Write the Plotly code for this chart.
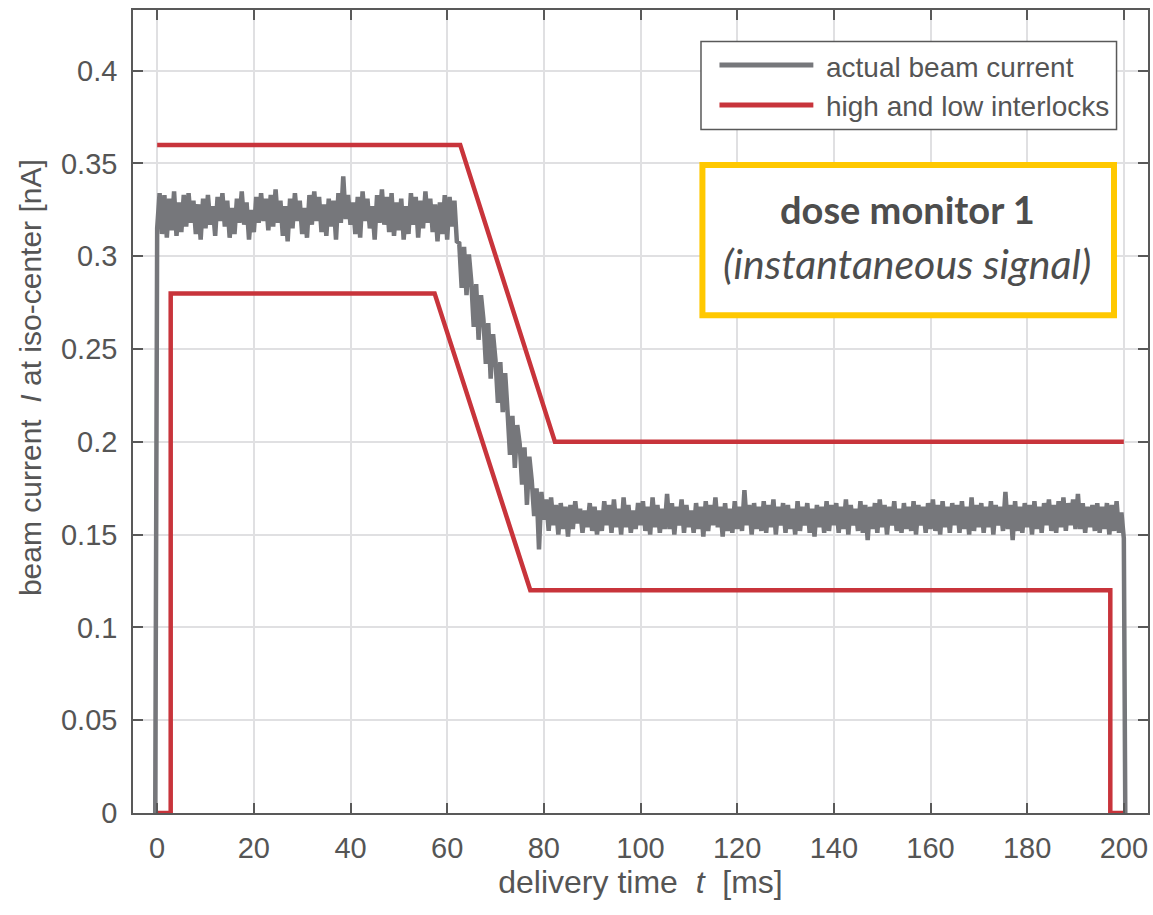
import plotly.graph_objects as go

# ---------------- data ----------------
SAMPLE_MS = 0.5  # sampling period of the beam-current record

# beam current [nA], sampled every 0.5 ms from t = 0.5 ms to 200.0 ms
plateau_high = [
    0.334, 0.312, 0.333, 0.310, 0.331, 0.314, 0.335, 0.311, 0.329, 0.313,
    0.333, 0.316, 0.334, 0.318, 0.330, 0.312, 0.328, 0.309, 0.331, 0.315,
    0.333, 0.317, 0.327, 0.311, 0.332, 0.319, 0.334, 0.316, 0.330, 0.310,
    0.326, 0.312, 0.331, 0.318, 0.335, 0.317, 0.329, 0.309, 0.325, 0.313,
    0.332, 0.318, 0.334, 0.319, 0.331, 0.314, 0.333, 0.316, 0.336, 0.318,
    0.330, 0.311, 0.327, 0.308, 0.331, 0.315, 0.334, 0.319, 0.330, 0.312,
    0.326, 0.310, 0.333, 0.317, 0.335, 0.319, 0.332, 0.313, 0.328, 0.311,
    0.331, 0.316, 0.330, 0.309, 0.334, 0.318, 0.343, 0.320, 0.333, 0.317,
    0.329, 0.312, 0.332, 0.310, 0.335, 0.319, 0.331, 0.315, 0.327, 0.309,
    0.333, 0.318, 0.336, 0.317, 0.332, 0.313, 0.334, 0.311, 0.329, 0.314,
    0.331, 0.309, 0.327, 0.312, 0.334, 0.317, 0.332, 0.310, 0.330, 0.315,
    0.335, 0.318, 0.331, 0.313, 0.328, 0.308, 0.329, 0.312, 0.333, 0.309,
    0.332, 0.316, 0.330, 0.308,
]
ramp_down = [
    0.307, 0.283, 0.305, 0.279, 0.301,
    0.286, 0.262, 0.285, 0.255, 0.279,
    0.266, 0.242, 0.264, 0.234, 0.258,
    0.244, 0.221, 0.243, 0.216, 0.237,
    0.216, 0.193, 0.214, 0.186, 0.209,
    0.199, 0.177, 0.197, 0.166, 0.192,
    0.179, 0.160, 0.175, 0.142, 0.173, 0.158,
]
plateau_low = [
    0.169, 0.152, 0.170, 0.155, 0.166, 0.150, 0.167, 0.153, 0.165, 0.149,
    0.166, 0.153, 0.168, 0.156, 0.164, 0.151, 0.163, 0.154, 0.167, 0.152,
    0.165, 0.150, 0.163, 0.152, 0.168, 0.155, 0.166, 0.151, 0.169, 0.154,
    0.164, 0.150, 0.170, 0.154, 0.166, 0.151, 0.163, 0.153, 0.167, 0.155,
    0.168, 0.152, 0.165, 0.150, 0.170, 0.154, 0.166, 0.151, 0.164, 0.153,
    0.172, 0.153, 0.167, 0.150, 0.165, 0.155, 0.169, 0.151, 0.166, 0.154,
    0.163, 0.151, 0.167, 0.153, 0.165, 0.149, 0.168, 0.152, 0.166, 0.155,
    0.170, 0.154, 0.165, 0.149, 0.167, 0.152, 0.164, 0.151, 0.168, 0.153,
    0.165, 0.152, 0.174, 0.155, 0.166, 0.150, 0.167, 0.153, 0.165, 0.152,
    0.168, 0.151, 0.166, 0.154, 0.169, 0.150, 0.165, 0.155, 0.167, 0.151,
    0.166, 0.153, 0.164, 0.150, 0.168, 0.152, 0.165, 0.155, 0.167, 0.151,
    0.164, 0.149, 0.166, 0.154, 0.165, 0.151, 0.168, 0.152, 0.166, 0.155,
    0.167, 0.151, 0.165, 0.153, 0.169, 0.150, 0.166, 0.155, 0.164, 0.152,
    0.168, 0.151, 0.166, 0.147, 0.165, 0.153, 0.167, 0.151, 0.169, 0.154,
    0.166, 0.150, 0.165, 0.155, 0.168, 0.152, 0.164, 0.151, 0.167, 0.153,
    0.165, 0.152, 0.168, 0.150, 0.166, 0.155, 0.165, 0.151, 0.167, 0.153,
    0.169, 0.152, 0.166, 0.150, 0.168, 0.154, 0.165, 0.151, 0.167, 0.155,
    0.166, 0.151, 0.168, 0.153, 0.165, 0.150, 0.170, 0.152, 0.166, 0.154,
    0.167, 0.151, 0.165, 0.154, 0.168, 0.150, 0.166, 0.155, 0.165, 0.152,
    0.173, 0.153, 0.166, 0.147, 0.168, 0.152, 0.165, 0.151, 0.167, 0.154,
    0.166, 0.150, 0.168, 0.153, 0.165, 0.151, 0.167, 0.155, 0.169, 0.152,
    0.166, 0.151, 0.168, 0.154, 0.170, 0.152, 0.167, 0.155, 0.169, 0.153,
    0.172, 0.153, 0.167, 0.151, 0.165, 0.154, 0.166, 0.152, 0.167, 0.151,
    0.165, 0.153, 0.167, 0.150, 0.166, 0.152, 0.168, 0.151, 0.162, 0.148,
]
beam_start_t = [-0.4, 0.0]
beam_start_v = [0.0, 0.315]
beam_end_t = [200.3, 200.7]
beam_end_v = [0.0, 0.0]

# interlock limits [nA]
high_t = [0.0, 62.7, 82.3, 200.0]
high_v = [0.36, 0.36, 0.20, 0.20]
low_t = [0.0, 2.8, 2.8, 57.4, 77.2, 197.2, 197.2, 200.0]
low_v = [0.0, 0.0, 0.28, 0.28, 0.12, 0.12, 0.0, 0.0]

x_ticks = [0, 20, 40, 60, 80, 100, 120, 140, 160, 180, 200]
y_ticks = [0, 0.05, 0.1, 0.15, 0.2, 0.25, 0.3, 0.35, 0.4]

# ---------------- build ----------------
samples = plateau_high + ramp_down + plateau_low
beam_t = beam_start_t + [round(SAMPLE_MS * (k + 1), 3) for k in range(len(samples))] + beam_end_t
beam_v = beam_start_v + samples + beam_end_v

GRAY = "#76777b"
RED = "#c8343b"
TXT = "#555555"
AXIS = "#595959"
FONT = "Liberation Sans, Arial, sans-serif"

fig = go.Figure()
fig.add_trace(go.Scatter(x=beam_t, y=beam_v, mode="lines",
                         line=dict(color=GRAY, width=4.5), name="actual beam current",
                         showlegend=False))
fig.add_trace(go.Scatter(x=high_t, y=high_v, mode="lines",
                         line=dict(color=RED, width=4.5), name="high and low interlocks",
                         showlegend=False))
fig.add_trace(go.Scatter(x=low_t, y=low_v, mode="lines",
                         line=dict(color=RED, width=4.5), showlegend=False))

axis_common = dict(showline=True, linecolor=AXIS, linewidth=1.5, mirror="allticks",
                   ticks="inside", ticklen=10, tickwidth=1.5, tickcolor=AXIS,
                   showgrid=True, gridcolor="#e0e0e2", gridwidth=1.5, zeroline=False,
                   tickfont=dict(family=FONT, size=29, color=TXT))

fig.update_xaxes(range=[-5, 205], tickvals=x_ticks, ticklabelstandoff=8,
                 title=dict(text="delivery time\u00a0\u00a0<i>t</i>\u00a0\u00a0[ms]",
                            font=dict(family=FONT, size=32, color=TXT), standoff=4),
                 **axis_common)
fig.update_yaxes(range=[0, 0.4327], tickvals=y_ticks, ticklabelstandoff=8,
                 **axis_common)

# manual legend (box + sample lines + labels)
shapes = [
    dict(type="rect", xref="paper", yref="paper", x0=0.5596, x1=0.969, y0=0.8512, y1=0.9608,
         line=dict(color=AXIS, width=1.5), fillcolor="white", layer="above"),
    dict(type="line", xref="paper", yref="paper", x0=0.5778, x1=0.6703, y0=0.9315, y1=0.9315,
         line=dict(color=GRAY, width=5), layer="above"),
    dict(type="line", xref="paper", yref="paper", x0=0.5778, x1=0.6703, y0=0.8817, y1=0.8817,
         line=dict(color=RED, width=5), layer="above"),
    dict(type="rect", xref="paper", yref="paper", x0=0.561, x1=0.9665, y0=0.620, y1=0.807,
         line=dict(color="#ffc800", width=6), fillcolor="white", layer="above"),
]
annotations = [
    dict(xref="paper", yref="paper", x=-0.1014, y=0.5417, xanchor="center", yanchor="middle",
         textangle=-90, text="beam current\u00a0\u00a0<i>I</i> at iso-center [nA]", showarrow=False,
         font=dict(family=FONT, size=30, color=TXT)),
    dict(xref="paper", yref="paper", x=0.681, y=0.929, xanchor="left", yanchor="middle",
         text="actual beam current", showarrow=False,
         font=dict(family=FONT, size=28, color=TXT)),
    dict(xref="paper", yref="paper", x=0.681, y=0.8804, xanchor="left", yanchor="middle",
         text="high and low interlocks", showarrow=False,
         font=dict(family=FONT, size=28, color=TXT)),
    dict(xref="paper", yref="paper", x=0.763, y=0.752, xanchor="center", yanchor="middle",
         text="<b>dose monitor 1</b>", showarrow=False,
         font=dict(family="Lato, sans-serif", size=38, color="#4d4d4d")),
    dict(xref="paper", yref="paper", x=0.763, y=0.684, xanchor="center", yanchor="middle",
         text="<i>(instantaneous signal)</i>", showarrow=False,
         font=dict(family="Lato, sans-serif", size=41, color="#4d4d4d")),
]

fig.update_layout(width=1153, height=915, margin=dict(l=133, r=3, t=10, b=102),
                  plot_bgcolor="white", paper_bgcolor="white",
                  shapes=shapes, annotations=annotations, showlegend=False)

fig.write_html("out.html")
